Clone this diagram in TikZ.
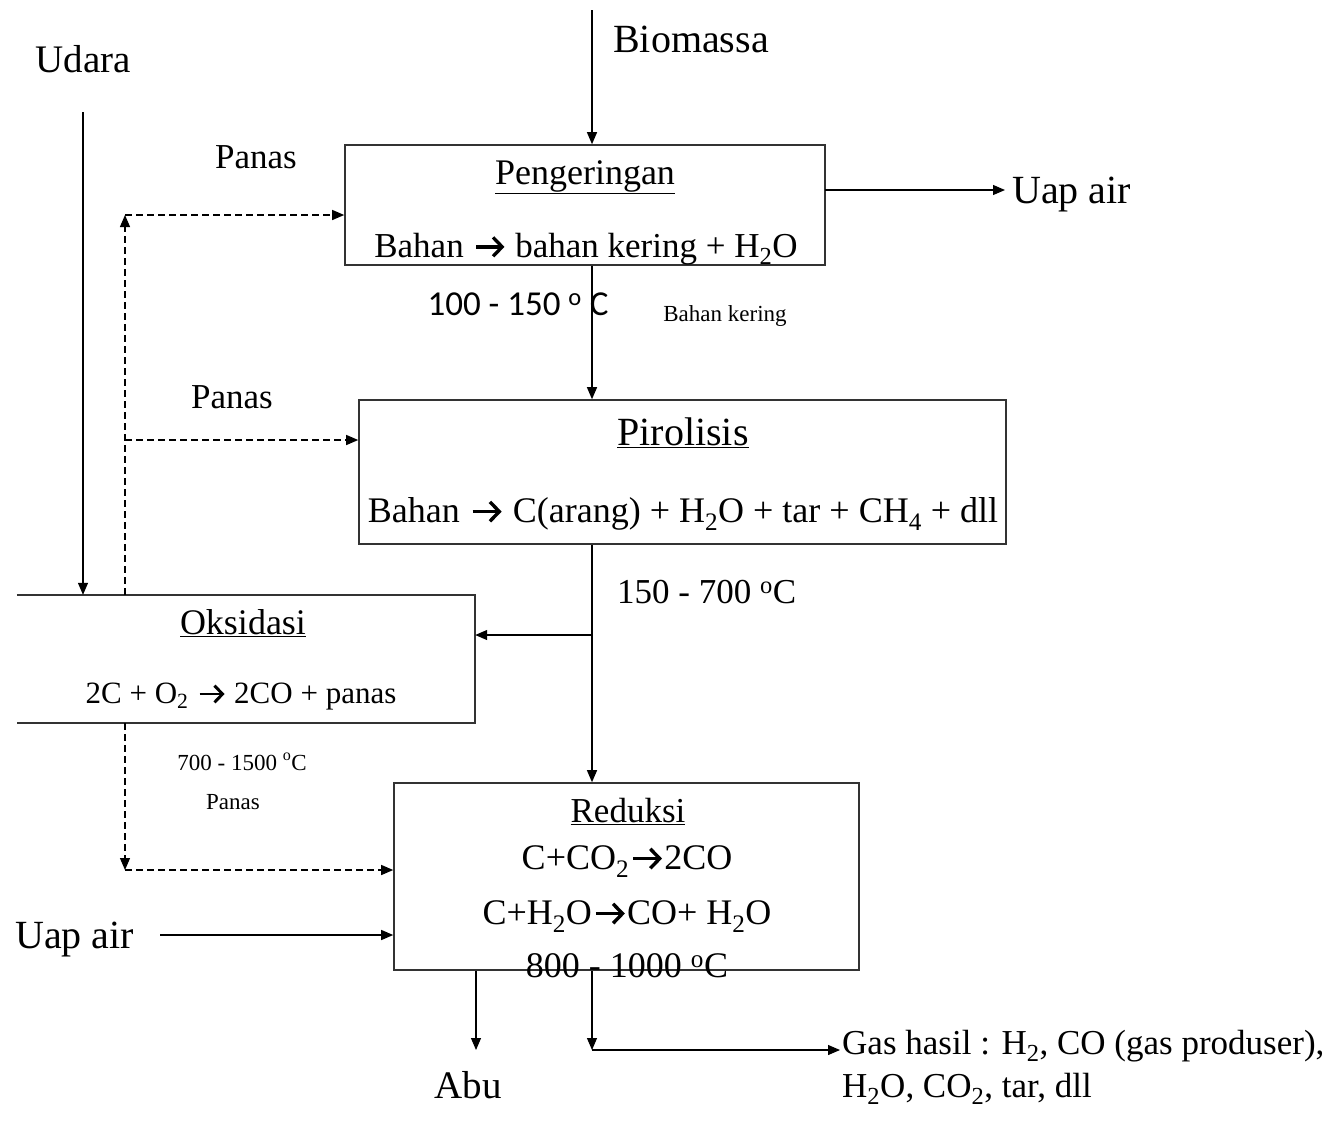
\documentclass[tikz,border=0pt]{standalone}
\usepackage{fontspec}
\setmainfont{Liberation Serif}
\newfontfamily\carl{Carlito}
\usetikzlibrary{arrows.meta}
\newcommand{\arr}{\kern0.06em\tikz[baseline=0pt,x=1em,y=1em,line width=0.095em]{\draw[line cap=butt] (0.02,0.29)--(0.74,0.29); \draw[line join=miter, line cap=butt] (0.5,0.56)--(0.76,0.29)--(0.5,0.02);}\kern0.08em}
\newcommand{\fsz}[1]{\fontsize{#1}{#1}\selectfont}
\newcommand{\dg}{\textsuperscript{o}}
\begin{document}
\begin{tikzpicture}[x=1pt,y=-1pt,
  box/.style={draw=black!80, line width=1.6pt, inner sep=0pt},
  boxline/.style={draw=black!80, line width=1.6pt},
  arrow/.style={-{Triangle[length=12pt,width=10pt]}, line width=1.2pt},
  heat/.style={dash pattern=on 7pt off 4pt, line width=1.2pt},
  lbl/.style={inner sep=0pt, anchor=base}]
\fill[white] (0,0) rectangle (1338,1120);
\useasboundingbox (0,0) rectangle (1338,1120);

% boxes
\node[box, minimum width=480pt, minimum height=120pt] (peng) at (585,205) {};
\node[box, minimum width=647pt, minimum height=144pt] (piro) at (682.5,472) {};
\node[inner sep=0pt, minimum width=458pt, minimum height=128pt] (oks) at (246,659) {};
\draw[boxline] (oks.north west) -- (oks.north east) -- (oks.south east) -- (oks.south west);
\node[box, minimum width=465pt, minimum height=187pt] (red) at (626.5,876.5) {};

% box texts
\node[lbl] (pengT) at (585,184) {\fsz{36}\underline{Pengeringan}};
\node[lbl] (pengR) at (586,257) {\fsz{35}Bahan \arr{} bahan kering + H\textsubscript{2}O};
\node[lbl] (piroT) at (683,445) {\fsz{40}\underline{Pirolisis}};
\node[lbl] (piroR) at (683,522) {\fsz{36}Bahan \arr{} C(arang) + H\textsubscript{2}O + tar + CH\textsubscript{4} + dll};
\node[lbl] (oksT) at (243,634) {\fsz{36}\underline{Oksidasi}};
\node[lbl] (oksR) at (241,703) {\fsz{31}2C + O\textsubscript{2} \arr{} 2CO + panas};
\node[lbl] (redT) at (628,822) {\fsz{35}\underline{Reduksi}};
\node[lbl] (redR1) at (627,869) {\fsz{36}C+CO\textsubscript{2}\arr2CO};
\node[lbl] (redR2) at (627,924) {\fsz{36}C+H\textsubscript{2}O\arr CO+ H\textsubscript{2}O};
\node[lbl] (redR3) at (627,977) {\fsz{36}800 - 1000 \dg C};

% outer labels
\node[lbl] (udara) at (83,72) {\fsz{39}Udara};
\node[lbl, anchor=base west] (bio) at (613,52) {\fsz{40}Biomassa};
\node[lbl, anchor=base west] (uap1) at (1012,203) {\fsz{40}Uap air};
\node[lbl] (panas1) at (256,168) {\fsz{35}Panas};
\node[lbl] (panas2) at (232,408) {\fsz{35}Panas};
\node[lbl] (t1) at (518,315) {\fsz{35}\carl 100 - 150 \textsuperscript{o} C};
\node[lbl] (bk) at (725,321) {\fsz{23}Bahan kering};
\node[lbl, anchor=base west] (t2) at (617,603) {\fsz{35}150 - 700 \dg C};
\node[lbl] (t3) at (242,770) {\fsz{23}700 - 1500 \dg C};
\node[lbl] (panas3) at (233,809) {\fsz{23}Panas};
\node[lbl, anchor=base west] (uap2) at (15,948) {\fsz{40}Uap air};
\node[lbl] (abu) at (468,1098) {\fsz{39}Abu};
\node[lbl, anchor=base west] (gas1) at (842,1054) {\fsz{35}Gas hasil : H\textsubscript{2}, CO (gas produser),};
\node[lbl, anchor=base west] (gas2) at (842,1097) {\fsz{35}H\textsubscript{2}O, CO\textsubscript{2}, tar, dll};

% coordinates
\coordinate (bioS) at (592,10);
\coordinate (uapS) at (825,190);
\coordinate (uapE) at (1005,190);
\coordinate (brk) at (592,635);
\coordinate (udS) at (83,112);
\coordinate (h1) at (125,215);
\coordinate (h2) at (125,440);
\coordinate (h3) at (125,870);
\coordinate (u2) at (160,935);
\coordinate (abuE) at (476,1050);
\coordinate (g1) at (592,1050);
\coordinate (g2) at (840,1050);

% connectors
\draw[arrow] (bioS) -- (bioS |- peng.north);
\draw[arrow] (uapS) -- (uapE);
\draw[arrow] (peng.south -| bioS) -- (piro.north -| bioS);
\draw[arrow] (piro.south -| bioS) -- (red.north -| bioS);
\draw[arrow] (brk) -- (oks.east |- brk);
\draw[arrow] (udS) -- (udS |- oks.north);
\draw[heat, arrow] (oks.north -| h1) -- (h1);
\draw[heat, arrow] (h1) -- (peng.west |- h1);
\draw[heat, arrow] (h2) -- (piro.west |- h2);
\draw[heat, arrow] (oks.south -| h3) -- (h3);
\draw[heat, arrow] (h3) -- (red.west |- h3);
\draw[arrow] (u2) -- (red.west |- u2);
\draw[arrow] (red.south -| abuE) -- (abuE);
\draw[arrow] (red.south -| g1) -- (g1);
\draw[arrow] (g1) -- (g2);
\end{tikzpicture}
\end{document}
